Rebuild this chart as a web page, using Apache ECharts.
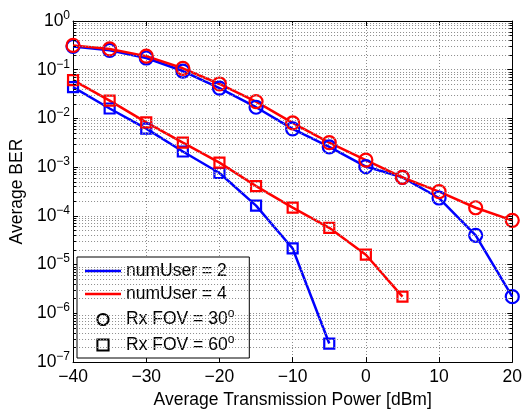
<!DOCTYPE html>
<html>
<head>
<meta charset="utf-8">
<script src="https://cdn.jsdelivr.net/npm/echarts@6/dist/echarts.min.js"></script>
<style>
  html, body { margin: 0; padding: 0; background: #fff; }
  #chart { width: 525px; height: 414px; }
</style>
</head>
<body>
<div id="chart"></div>
<script>
// transmit power [dBm]
var powerDbm = [-40, -35, -30, -25, -20, -15, -10, -5, 0, 5, 10, 15, 20];
// average BER
var berUser2Fov30 = [0.30, 0.25, 0.174, 0.094, 0.042, 0.017, 0.0061, 0.0026, 0.00103, 0.00062, 0.000233, 4.0e-5, 2.2e-6];
var berUser4Fov30 = [0.316, 0.267, 0.19, 0.107, 0.051, 0.0222, 0.0081, 0.0032, 0.0014, 0.00062, 0.000316, 0.000147, 8.1e-5];
var berUser2Fov60 = [0.044, 0.016, 0.0062, 0.0021, 0.00076, 0.000163, 2.15e-5, 2.4e-7];
var berUser4Fov60 = [0.061, 0.0233, 0.0083, 0.0032, 0.00124, 0.00041, 0.000148, 5.7e-5, 1.6e-5, 2.2e-6];
var legendNames = ['numUser = 2', 'numUser = 4', 'Rx FOV = 30', 'Rx FOV = 60'];

var FONT = 'Liberation Sans';
var BLUE = '#0000ff', RED = '#ff0000';
var GRID_LINE = { color: '#8c8c8c', type: [1, 2], width: 1 };

function pairs(ys) {
  var out = [];
  for (var i = 0; i < ys.length; i++) out.push([powerDbm[i], ys[i]]);
  return out;
}
function minus(s) { return String(s).replace('-', '\u2212'); }

// minor log grid (2..9 per decade) and the little inward ticks on both sides
var minorGrid = [], minorTicks = [];
for (var k = -7; k < 0; k++) {
  for (var m = 2; m <= 9; m++) {
    var v = m * Math.pow(10, k);
    minorGrid.push([{ coord: [-40, v] }, { coord: [20, v] }]);
    minorTicks.push([{ coord: [-40, v] }, { coord: [-39.6, v] }]);
    minorTicks.push([{ coord: [19.6, v] }, { coord: [20, v] }]);
  }
}

function dataSeries(name, ys, color, symbol, size) {
  return {
    type: 'line', name: name, data: pairs(ys),
    symbol: symbol, symbolSize: size, showAllSymbol: true,
    lineStyle: { color: color, width: 2.5 },
    itemStyle: { color: 'rgba(0,0,0,0)', borderColor: color, borderWidth: 2.2 },
    emphasis: { disabled: true }, z: 3
  };
}
function markerSeries(name, z, lines, style) {
  return {
    type: 'line', name: name, data: [[-40, 1], [20, 1e-7]], symbol: 'none', silent: true,
    lineStyle: { opacity: 0 }, z: z,
    markLine: {
      silent: true, symbol: 'none', label: { show: false }, animation: false,
      lineStyle: style, emphasis: { disabled: true }, data: lines
    }
  };
}

var supRich = {
  s: { fontFamily: FONT, fontSize: 12, color: '#000', padding: [0, 0, 11, 0] }
};
var LINE_ICON = 'path://M0,0H36V2.5H0Z';

var chart = echarts.init(document.getElementById('chart'));
chart.setOption({
  animation: false,
  backgroundColor: '#fff',
  grid: { left: 72, right: 12, top: 21, bottom: 44 },
  legend: {
    left: 77, top: 257, orient: 'vertical',
    backgroundColor: '#fff', borderColor: '#000', borderWidth: 1,
    padding: [5, 15, 4, 8], itemGap: 5, itemWidth: 36, itemHeight: 14,
    data: [
      { name: legendNames[0], icon: LINE_ICON },
      { name: legendNames[1], icon: LINE_ICON },
      { name: legendNames[2] },
      { name: legendNames[3] }
    ],
    formatter: function (n) { return n.indexOf('FOV') >= 0 ? n + '{s|o}' : n; },
    textStyle: { fontFamily: FONT, fontSize: 17.5, color: '#000', rich: supRich }
  },
  xAxis: [{
    type: 'value', min: -40, max: 20, interval: 10,
    name: 'Average Transmission Power [dBm]', nameLocation: 'middle', nameGap: 24,
    nameTextStyle: { fontFamily: FONT, fontSize: 17.5, color: '#000' },
    axisLine: { onZero: false, lineStyle: { color: '#000', width: 1 } },
    axisTick: { inside: true, length: 5, lineStyle: { color: '#000' } },
    axisLabel: { fontFamily: FONT, fontSize: 17.5, color: '#000', margin: 6, formatter: minus },
    splitLine: { show: true, lineStyle: GRID_LINE }
  }, {
    type: 'value', min: -40, max: 20, interval: 10, position: 'top',
    axisLine: { onZero: false, lineStyle: { color: '#000', width: 1 } },
    axisTick: { inside: true, length: 5, lineStyle: { color: '#000' } },
    axisLabel: { show: false }, splitLine: { show: false }
  }],
  yAxis: [{
    type: 'log', logBase: 10, min: 1e-7, max: 1,
    name: 'Average BER', nameLocation: 'middle', nameGap: 41,
    nameTextStyle: { fontFamily: FONT, fontSize: 17.5, color: '#000' },
    axisLine: { onZero: false, lineStyle: { color: '#000', width: 1 } },
    axisTick: { inside: true, length: 5, lineStyle: { color: '#000' } },
    axisLabel: {
      fontFamily: FONT, fontSize: 17.5, color: '#000', margin: 3,
      formatter: function (v) {
        var e = Math.round(Math.log10(v));
        return '10{s|' + minus(e) + '}';
      },
      rich: supRich
    },
    splitLine: { show: true, lineStyle: GRID_LINE }
  }, {
    type: 'log', logBase: 10, min: 1e-7, max: 1, position: 'right',
    axisLine: { onZero: false, lineStyle: { color: '#000', width: 1 } },
    axisTick: { inside: true, length: 5, lineStyle: { color: '#000' } },
    axisLabel: { show: false }, splitLine: { show: false }
  }],
  series: [
    markerSeries('minorGrid', 1, minorGrid, GRID_LINE),
    markerSeries('minorTicks', 2, minorTicks, { color: '#000', type: 'solid', width: 1 }),
    dataSeries('u2f30', berUser2Fov30, BLUE, 'circle', 13),
    dataSeries('u2f60', berUser2Fov60, BLUE, 'rect', 10),
    dataSeries('u4f30', berUser4Fov30, RED, 'circle', 13),
    dataSeries('u4f60', berUser4Fov60, RED, 'rect', 10),
    // legend-only entries
    { type: 'line', name: legendNames[0], data: [], symbol: 'none', color: BLUE,
      itemStyle: { color: BLUE }, lineStyle: { color: BLUE, width: 2.5 } },
    { type: 'line', name: legendNames[1], data: [], symbol: 'none', color: RED,
      itemStyle: { color: RED }, lineStyle: { color: RED, width: 2.5 } },
    { type: 'line', name: legendNames[2], data: [], symbol: 'circle', symbolSize: 11,
      lineStyle: { width: 0, opacity: 0 },
      itemStyle: { color: 'rgba(0,0,0,0)', borderColor: '#000', borderWidth: 2.2 } },
    { type: 'line', name: legendNames[3], data: [], symbol: 'rect', symbolSize: 9,
      lineStyle: { width: 0, opacity: 0 },
      itemStyle: { color: 'rgba(0,0,0,0)', borderColor: '#000', borderWidth: 2.2 } }
  ]
});
</script>
</body>
</html>
